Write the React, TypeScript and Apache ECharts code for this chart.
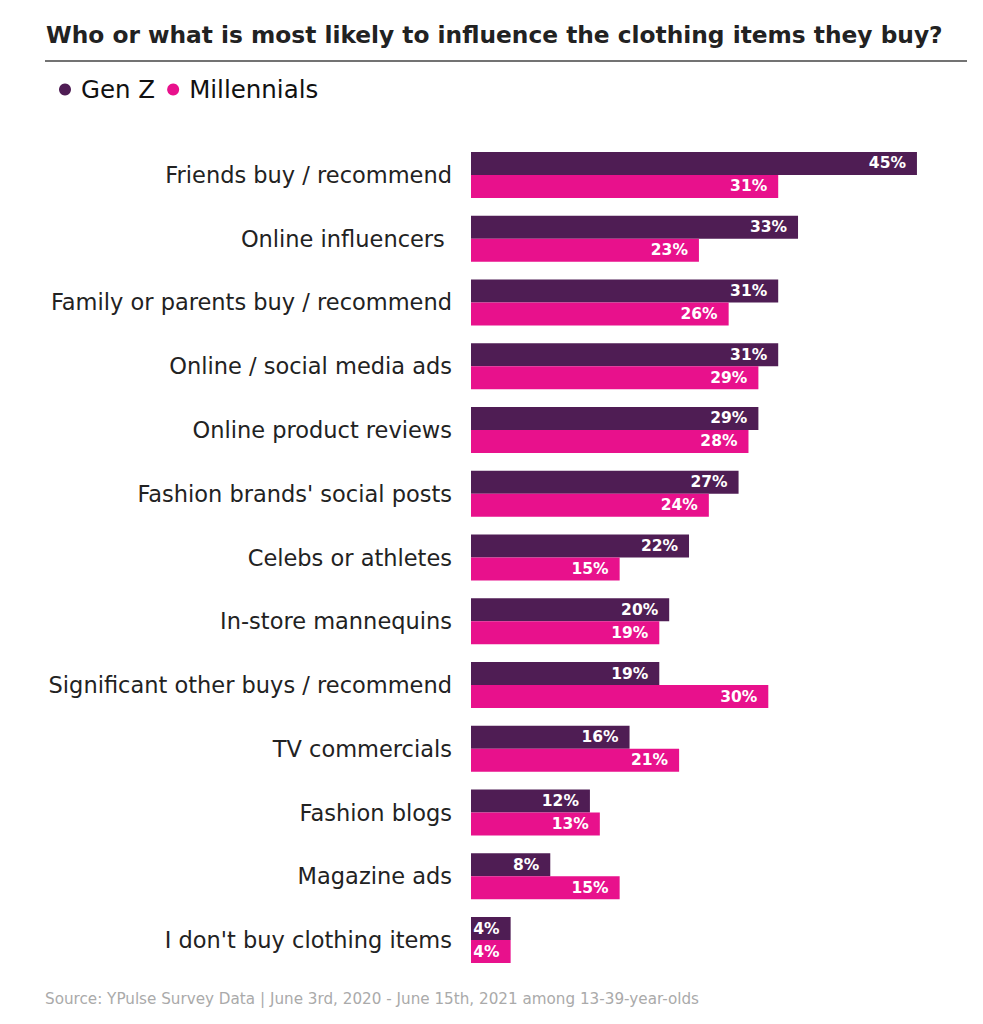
import React, { useEffect, useRef } from "react";
import * as echarts from "echarts";

const categories = [
  "Friends buy / recommend",
  "Online influencers ",
  "Family or parents buy / recommend",
  "Online / social media ads",
  "Online product reviews",
  "Fashion brands' social posts",
  "Celebs or athletes",
  "In-store mannequins",
  "Significant other buys / recommend",
  "TV commercials",
  "Fashion blogs",
  "Magazine ads",
  "I don't buy clothing items",
];
const genZ = [45, 33, 31, 31, 29, 27, 22, 20, 19, 16, 12, 8, 4];
const millennials = [31, 23, 26, 29, 28, 24, 15, 19, 30, 21, 13, 15, 4];
const seriesNames = ["Gen Z", "Millennials"];
const colors = ["#4F1D54", "#E8118C"];

const FONT = "'DejaVu Sans', 'Noto Sans', sans-serif";

export default function App() {
  const ref = useRef<HTMLDivElement>(null);
  useEffect(() => {
    const chart = echarts.init(ref.current!, undefined, { renderer: "svg" });
    const label = {
      show: true,
      position: "insideRight" as const,
      distance: 11,
      color: "#fff",
      fontWeight: "bold" as const,
      fontSize: 15.5,
      fontFamily: FONT,
      formatter: "{c}%",
    };
    chart.setOption({
      animation: false,
      backgroundColor: "#fff",
      title: {
        text: "Who or what is most likely to influence the clothing items they buy?",
        left: 41,
        top: 18,
        textStyle: { fontFamily: FONT, fontWeight: "bold", fontSize: 23.3, color: "#222" },
      },
      legend: {
        data: seriesNames,
        left: 54,
        top: 72,
        icon: "circle",
        itemWidth: 12,
        itemHeight: 12,
        itemGap: 12,
        textStyle: { fontFamily: FONT, fontSize: 24.5, color: "#111", padding: [0, 0, 0, 5] },
      },
      graphic: [
        {
          type: "line",
          shape: { x1: 45, y1: 61, x2: 967, y2: 61 },
          style: { stroke: "#444", lineWidth: 1.5 },
        },
        {
          type: "text",
          left: 45,
          top: 991,
          style: {
            text: "Source: YPulse Survey Data | June 3rd, 2020 - June 15th, 2021 among 13-39-year-olds",
            fontFamily: FONT,
            fontSize: 15.2,
            fill: "#aaa",
          },
        },
      ],
      grid: { left: 471, top: 143, width: 495.5, height: 829 },
      xAxis: {
        type: "value",
        min: 0,
        max: 50,
        show: false,
      },
      yAxis: {
        type: "category",
        data: categories,
        inverse: true,
        axisLine: { show: false },
        axisTick: { show: false },
        axisLabel: { margin: 19, fontFamily: FONT, fontSize: 22.5, color: "#222" },
      },
      series: [
        {
          name: seriesNames[0],
          type: "bar",
          data: genZ,
          barWidth: 23,
          barGap: "0%",
          itemStyle: { color: colors[0] },
          label,
        },
        {
          name: seriesNames[1],
          type: "bar",
          data: millennials,
          barWidth: 23,
          barGap: "0%",
          itemStyle: { color: colors[1] },
          label,
        },
      ],
    });
    return () => chart.dispose();
  }, []);
  return (
    <div
      ref={ref}
      style={{ position: "fixed", left: 0, top: 0, width: 983, height: 1024 }}
    />
  );
}
